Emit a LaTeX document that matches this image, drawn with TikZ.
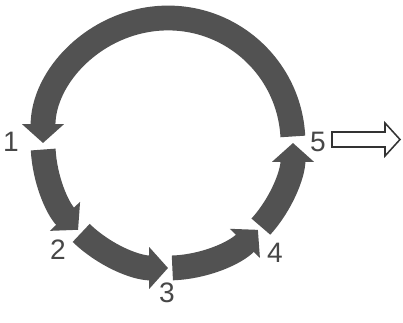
\documentclass[tikz,border=0pt]{standalone}
\usepackage{fontspec}
\setsansfont{Liberation Sans}
\usepackage{tikz}
\usetikzlibrary{arrows.meta}

\begin{document}
\begin{tikzpicture}[x=0.025cm,y=0.025cm,every node/.style={font=\sffamily\fontsize{20}{24}\selectfont,text=black!72,inner sep=0pt},segarrow/.style={draw=black!68,line width=0.62cm,-{Triangle[width=1.02cm,length=0.47cm]}},outarrow/.style={draw=black!80,line width=1.1pt,fill=white,line join=miter}]
\useasboundingbox (0,0) rectangle (403,323);
\coordinate (c) at (168,180);
% the five segments of the cycle
\foreach \a/\b/\n in {3/180/s5,183/224/s1,226/270/s2,272/316/s3,318/360/s4}
  \draw[segarrow] ([shift={(\a:125)}]c) coordinate (\n) arc[start angle=\a,end angle=\b,radius=125];
\node (n1) at (11,181) {1}; \node (n2) at (58,73) {2}; \node (n3) at (167,30) {3}; \node (n4) at (275,70) {4}; \node (n5) at (318,181) {5};
% outlet
\coordinate (out) at (332,176);
\draw[outarrow] (out) -- ++(53,0) -- ++(0,-9) -- ++(15,16.5) -- ++(-15,16.5) -- ++(0,-9) -- ++(-53,0) -- cycle;
\end{tikzpicture}
\end{document}
